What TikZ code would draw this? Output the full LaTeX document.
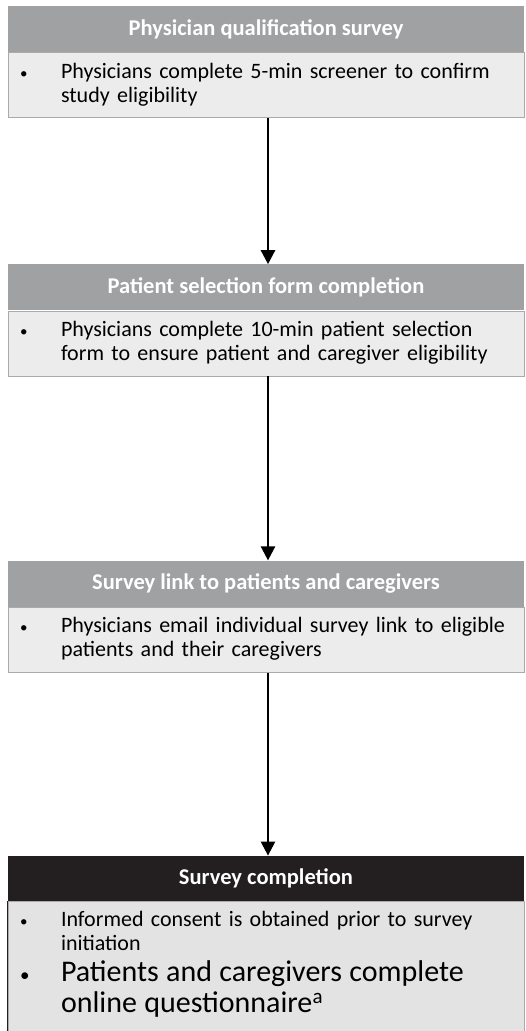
\documentclass[tikz,border=0pt]{standalone}
\usepackage{fontspec}
\setmainfont{Carlito}
\usetikzlibrary{positioning,arrows.meta}
\definecolor{headgray}{RGB}{160,161,163}
\definecolor{bodygray}{RGB}{236,236,236}
\definecolor{lastgray}{RGB}{227,227,227}
\definecolor{headdark}{RGB}{35,31,32}
\definecolor{edgegray}{RGB}{170,170,170}

% one bullet point with hanging indent
\newcommand{\bitem}[2][15]{\par\hangindent=41pt\hangafter=1\noindent\makebox[41pt][l]{\fontsize{#1}{#1}\selectfont\textbullet}#2\par}

\tikzset{
  head/.style={fill=headgray, text=white, font=\bfseries\fontsize{22.5}{26}\selectfont,
    minimum width=516pt, minimum height=46pt, inner sep=0pt},
  body/.style={fill=bodygray, draw=edgegray, line width=0.8pt, text width=492pt, inner xsep=12pt,
    inner ysep=1pt, align=left, minimum height=65pt, font=\fontsize{22}{24}\selectfont,
    execute at end node={\par\vspace*{10pt}}},
  flow/.style={line width=2.4pt, -{Triangle[width=14pt,length=14pt]}},
}

\begin{document}
\begin{tikzpicture}[x=1pt,y=1pt]
        \useasboundingbox[fill=white] (0,0) rectangle (526,-1031);

        % Step 1
        \node[head, anchor=north] (qualhead) at (266,-6) {Physician qualification survey};
        \node[body, below=0pt of qualhead] (qualbody) {\bitem{Physicians complete 5-min screener to confirm\newline study eligibility}};

        % Step 2
        \node[head, below=146pt of qualbody] (selhead) {Patient selection form completion};
        \node[body, below=0pt of selhead] (selbody) {\bitem{Physicians complete 10-min patient selection\newline form to ensure patient and caregiver eligibility}};

        % Step 3
        \node[head, below=184pt of selbody] (linkhead) {Survey link to patients and caregivers};
        \node[body, below=0pt of linkhead] (linkbody) {\bitem{Physicians email individual survey link to eligible\newline patients and their caregivers}};

        % Step 4 (dark header)
        \node[head, fill=headdark, minimum height=45pt, below=183pt of linkbody] (donehead) {Survey completion};
        \node[body, fill=lastgray, minimum height=0pt, inner ysep=1pt, below=0pt of donehead] (donebody) {%
          \bitem{Informed consent is obtained prior to survey\newline initiation}
          \fontsize{30}{31}\selectfont
          \bitem[19]{Patients and caregivers complete\newline online questionnaire\textsuperscript{a}}
          \vspace*{24pt}};
        \draw[headdark, line width=1pt] (donebody.north west) -- (donebody.south west);

        % Arrows
        \draw[flow] ([xshift=2pt]qualbody.south) -- ([xshift=2pt]selhead.north);
        \draw[flow] ([xshift=2pt]selbody.south) -- ([xshift=2pt]linkhead.north);
        \draw[flow] ([xshift=2pt]linkbody.south) -- ([xshift=2pt]donehead.north);
    \end{tikzpicture}
\end{document}
